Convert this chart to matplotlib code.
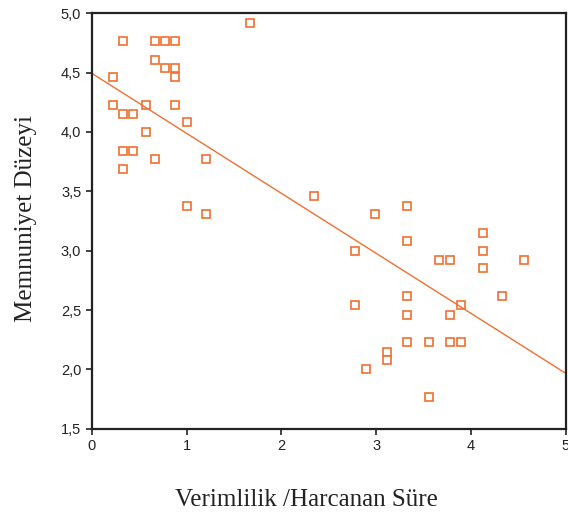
import numpy as np
import matplotlib
matplotlib.use('Agg')
import matplotlib.pyplot as plt
from matplotlib.ticker import FuncFormatter

# Verimlilik / Harcanan Süre (x) ve Memnuniyet Düzeyi (y)
verimlilik = [1.67, 0.33, 0.67, 0.77, 0.88, 0.67, 0.77, 0.88, 0.88, 0.22,
              0.22, 0.57, 0.88, 0.33, 0.44, 0.57, 1.00, 0.33, 0.44, 0.33,
              0.67, 1.21, 1.00, 1.21,
              2.34, 2.99, 3.32, 4.12, 3.32, 2.78, 4.12, 3.66, 3.78, 4.56,
              4.12, 4.33, 3.32, 2.78, 3.89, 3.32, 3.78, 3.32, 3.56, 3.78,
              3.89, 3.11, 3.11, 2.89, 3.56]
memnuniyet = [4.92, 4.77, 4.77, 4.77, 4.77, 4.61, 4.54, 4.54, 4.46, 4.46,
              4.23, 4.23, 4.23, 4.15, 4.15, 4.00, 4.08, 3.84, 3.84, 3.69,
              3.77, 3.77, 3.38, 3.31,
              3.46, 3.31, 3.38, 3.15, 3.08, 3.00, 3.00, 2.92, 2.92, 2.92,
              2.85, 2.62, 2.62, 2.54, 2.54, 2.46, 2.46, 2.23, 2.23, 2.23,
              2.23, 2.15, 2.08, 2.00, 1.77]

# Regresyon doğrusu
kesisim = 4.495
egim = -0.506

turuncu = '#f07030'

fig = plt.figure(figsize=(5.68, 5.18), dpi=100)
ax = fig.add_axes([0.1614, 0.1724, 0.9965 - 0.1614, 0.9743 - 0.1724])

ax.plot(verimlilik, memnuniyet, 's', markersize=5.6, markerfacecolor='white',
        markeredgecolor=turuncu, markeredgewidth=1.2, linestyle='none')

xs = np.array([0, 5])
ax.plot(xs, kesisim + egim * xs, color=turuncu, linewidth=1.0)

ax.set_xlim(0, 5)
ax.set_ylim(1.5, 5.0)
ax.set_xticks(range(0, 6))
ax.set_yticks(np.arange(1.5, 5.01, 0.5))
ax.yaxis.set_major_formatter(FuncFormatter(lambda v, p: f'{v:.1f}'.replace('.', ',')))

for s in ax.spines.values():
    s.set_linewidth(1.6)
    s.set_color('#222222')
ax.tick_params(direction='out', length=4, width=1.2, color='#222222',
               labelsize=10.5, labelcolor='#222222')
for lab in ax.get_xticklabels() + ax.get_yticklabels():
    lab.set_family('Liberation Sans')

ax.set_xlabel('Verimlilik /Harcanan Süre', family='Liberation Serif',
              fontsize=18, color='#222222')
ax.set_ylabel('Memnuniyet Düzeyi', family='Liberation Serif',
              fontsize=18, color='#222222')
ax.xaxis.label.set_va('baseline')
ax.xaxis.set_label_coords(0.452, -0.186)
ax.yaxis.label.set_va('baseline')
ax.yaxis.set_label_coords(-0.126, 0.507)

fig.savefig('out.png', dpi=100)
